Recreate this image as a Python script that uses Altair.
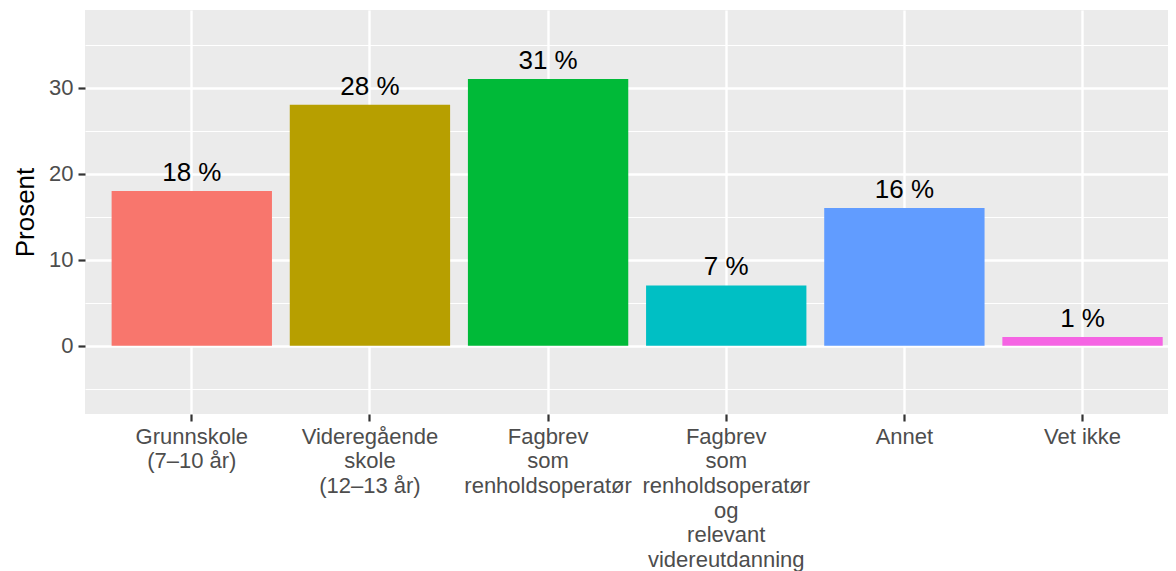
import altair as alt
import pandas as pd

categories = [
    "Grunnskole\n(7–10 år)",
    "Videregående\nskole\n(12–13 år)",
    "Fagbrev\nsom\nrenholdsoperatør",
    "Fagbrev\nsom\nrenholdsoperatør\nog\nrelevant\nvidereutdanning",
    "Annet",
    "Vet ikke",
]
values = [18, 28, 31, 7, 16, 1]
colors = ["#F8766D", "#B79F00", "#00BA38", "#00BFC4", "#619CFF", "#F564E3"]
y_ticks = [-5, 0, 5, 10, 15, 20, 25, 30, 35]

df = pd.DataFrame({"kategori": categories, "prosent": values})

FONT = "Liberation Sans"

x_enc = alt.X(
    "kategori:N",
    sort=categories,
    title=None,
    scale=alt.Scale(paddingInner=0.1, paddingOuter=0.0896, align=0.834),
    axis=alt.Axis(
        labelAngle=0,
        labelExpr="split(datum.label, '\\n')",
        labelFontSize=22,
        labelFont=FONT,
        labelColor="#4D4D4D",
        labelLineHeight=24.7,
        labelBaseline="top",
        labelPadding=5,
        labelLimit=400,
        tickSize=7,
        tickWidth=2.2,
        tickColor="#333333",
        domain=False,
        grid=True,
        gridColor="#FFFFFF",
        gridWidth=2.4,
    ),
)

y_enc = alt.Y(
    "prosent:Q",
    title="Prosent",
    scale=alt.Scale(domain=[-7.94, 39.03], nice=False, zero=False),
    axis=alt.Axis(
        values=y_ticks,
        labelExpr="datum.value % 10 === 0 ? datum.label : ''",
        labelFontSize=22,
        labelFont=FONT,
        labelColor="#4D4D4D",
        labelPadding=5,
        tickSize=7,
        tickWidth=2.2,
        tickColor="#333333",
        tickOpacity={"condition": {"test": "datum.value % 10 === 0", "value": 1}, "value": 0},
        domain=False,
        grid=True,
        gridColor="#FFFFFF",
        gridWidth={"condition": {"test": "datum.value % 10 === 0", "value": 2.4}, "value": 1.2},
        titleFont=FONT,
        titleFontSize=26,
        titleFontWeight="normal",
        titleColor="#000000",
        titleX=-52,
        titleY=202,
        titleBaseline="alphabetic",
        titleAnchor="middle",
    ),
)

bars = alt.Chart(df).mark_bar().encode(
    x=x_enc,
    y=y_enc,
    y2=alt.datum(0),
    color=alt.Color("kategori:N", sort=categories,
                    scale=alt.Scale(domain=categories, range=colors), legend=None),
)

labels = alt.Chart(df).transform_calculate(
    tekst="datum.prosent + ' %'"
).mark_text(
    fontSize=26, font=FONT, color="#000000", baseline="alphabetic", dy=-10
).encode(
    x=alt.X("kategori:N", sort=categories),
    y=alt.Y("prosent:Q"),
    text="tekst:N",
)

chart = alt.layer(bars, labels).properties(
    width=1083,
    height=404,
    autosize=alt.AutoSizeParams(type="none"),
    padding={"left": 77, "top": 2, "right": 0, "bottom": 160},
).configure_view(
    fill="#EBEBEB", stroke=None
)

chart.save("out.html", embed_options={"renderer": "svg", "actions": False})
